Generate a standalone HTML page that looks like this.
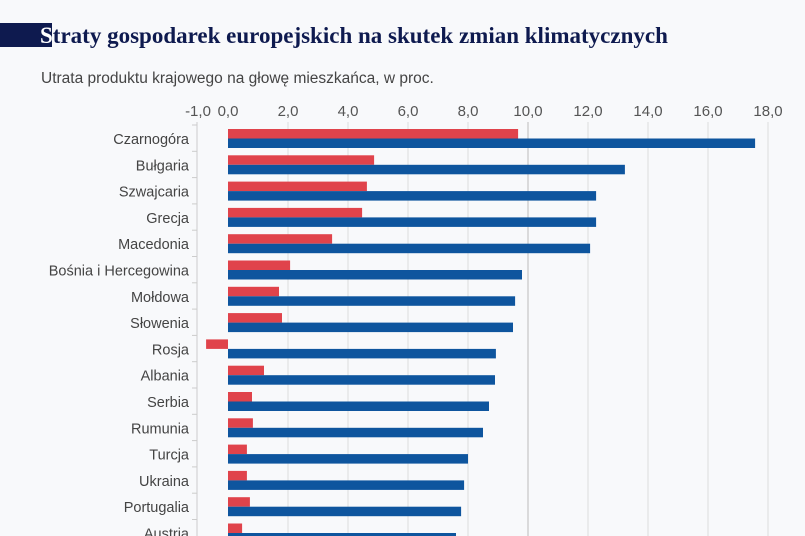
<!DOCTYPE html>
<html><head><meta charset="utf-8"><style>
body{margin:0;width:805px;height:536px;overflow:hidden;background:#f8f9fb;font-family:"Liberation Sans",sans-serif;}
svg{display:block}
</style></head><body>
<svg width="805" height="536">
<rect x="0" y="23" width="52" height="24" fill="#0e1a4f"/>
<text x="40" y="43" font-family="Liberation Serif,serif" font-weight="bold" font-size="23" fill="#0e1a4f"><tspan fill="#fff">S</tspan>traty gospodarek europejskich na skutek zmian klimatycznych</text>
<text x="41" y="83" font-size="15.5" fill="#444">Utrata produktu krajowego na głowę mieszkańca, w proc.</text>
<g id="grid"></g><g id="bars"></g><g id="labels"></g>
</svg>
<script>
const countries=["Czarnogóra","Bułgaria","Szwajcaria","Grecja","Macedonia","Bośnia i Hercegowina","Mołdowa","Słowenia","Rosja","Albania","Serbia","Rumunia","Turcja","Ukraina","Portugalia","Austria"];
const redValues=[9.67,4.87,4.63,4.47,3.47,2.07,1.7,1.8,-0.73,1.2,0.8,0.83,0.63,0.63,0.73,0.47];
const blueValues=[17.57,13.23,12.27,12.27,12.07,9.8,9.57,9.5,8.93,8.9,8.7,8.5,8.0,7.87,7.77,7.6];
const ticks=[-1,0,2,4,6,8,10,12,14,16,18];
const tickLabels=["-1,0","0,0","2,0","4,0","6,0","8,0","10,0","12,0","14,0","16,0","18,0"];
const NS="http://www.w3.org/2000/svg";
const x=v=>228+v*30;
const rowTop=i=>125+i*26.3;
function mk(t,a,p){const e=document.createElementNS(NS,t);for(const k in a)e.setAttribute(k,a[k]);p.appendChild(e);return e;}
const g=document.getElementById('grid'),b=document.getElementById('bars'),l=document.getElementById('labels');
ticks.forEach((v,i)=>{
  if(v>0){const ln=mk('line',{x1:x(v),x2:x(v),y1:122,y2:536,stroke:v==10?'#bbb':'#ddd','stroke-width':1},g);
  
  }
  const t=mk('text',{x:x(v),y:116,'text-anchor':'middle','font-size':15,fill:'#555'},l);
  t.textContent=tickLabels[i];
  
  
});
const ax=mk('line',{x1:197,x2:197,y1:122,y2:536,stroke:'#ccc'},g);


countries.forEach((c,i)=>{
  const top=rowTop(i);
  const tk=mk('line',{x1:192,x2:197,y1:top,y2:top,stroke:'#ccc'},g);
  
  
  const rv=redValues[i];
  const r=mk('rect',{x:Math.min(x(0),x(rv)),y:top+4,width:Math.abs(x(rv)-x(0)),height:9.5,fill:'#e0434b'},b);
  
  
  const bl=mk('rect',{x:x(0),y:top+13.5,width:x(blueValues[i])-x(0),height:9.5,fill:'#0e559e'},b);
  
  
  const t=mk('text',{x:189,y:top+19,'text-anchor':'end','font-size':14.5,fill:'#444'},l);
  t.textContent=c;
  
  
});
</script>
</body></html>
